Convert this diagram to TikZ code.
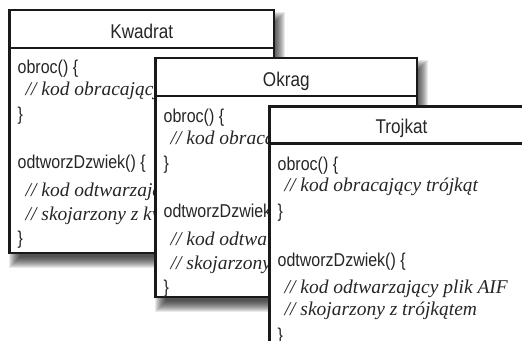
\documentclass[tikz,border=0pt]{standalone}
\usepackage{fontspec}
\newfontfamily\codefont[FakeStretch=0.86]{Liberation Sans}
\newfontfamily\cmtfont{Liberation Serif}
\tikzset{
  boxline/.style={draw=black!90, line width=2.4pt, fill=white},
  sepline/.style={draw=black!90, line width=2.2pt},
  code/.style={anchor=base west, inner sep=0pt, font=\codefont\fontsize{18.6}{20}\selectfont, text=black!85},
  cmt/.style={anchor=base west, inner sep=0pt, font=\cmtfont\itshape\fontsize{19.5}{21}\selectfont, text=black!85},
  ttl/.style={anchor=base, inner sep=0pt, font=\codefont\fontsize{19.9}{21}\selectfont, text=black!85},
}
\newcommand\softshadow[2]{%
  \foreach \k in {0,...,11}{%
    \fill[black,opacity=0.085] ({-1+\k},{2+\k}) rectangle ({#1+11-\k},{#2+15-\k});
  }}
\begin{document}
\begin{tikzpicture}[x=1pt,y=-1pt]
\useasboundingbox (0,0) rectangle (522,340);
\fill[white] (0,0) rectangle (522,340);
\clip (0,0) rectangle (522,340);

% Kwadrat
\begin{scope}[shift={(9.5,10)}]
  \softshadow{264.5}{243}
  \path[boxline] (0,0) rectangle (264.5,243);
  \draw[sepline] (0,38) -- (264.5,38);
  \node[ttl] (kt) at (132.25,28) {Kwadrat};
  \node[code] (k1) at (8,63) {obroc() \{};
  \node[cmt]  (k2) at (16,85) {// kod obracający kwadrat};
  \node[code] (k3) at (8,110) {\}};
  \node[code] (k4) at (8,158) {odtworzDzwiek() \{};
  \node[cmt]  (k5) at (16,186) {// kod odtwarzający plik AIF};
  \node[cmt]  (k6) at (16,210) {// skojarzony z kwadratem};
  \node[code] (k7) at (8,234) {\}};
\end{scope}

% Okrag
\begin{scope}[shift={(155.5,58)}]
  \softshadow{261.5}{239}
  \path[boxline] (0,0) rectangle (261.5,239);
  \draw[sepline] (0,38) -- (261.5,38);
  \node[ttl] (ot) at (130.75,28) {Okrag};
  \node[code] (o1) at (8,64) {obroc() \{};
  \node[cmt]  (o2) at (15,86) {// kod obracający koło};
  \node[code] (o3) at (8,111) {\}};
  \node[code] (o4) at (8,159) {odtworzDzwiek() \{};
  \node[cmt]  (o5) at (15,187) {// kod odtwarzający plik AIF};
  \node[cmt]  (o6) at (15,211) {// skojarzony z kołem};
  \node[code] (o7) at (8,235) {\}};
\end{scope}

% Trojkat
\begin{scope}[shift={(269.5,106.5)}]
  \softshadow{264}{250}
  \path[boxline] (0,0) rectangle (264,250);
  \draw[sepline] (0,37) -- (264,37);
  \node[ttl] (tt) at (132,27) {Trojkat};
  \node[code] (t1) at (8,64) {obroc() \{};
  \node[cmt]  (t2) at (15,85) {// kod obracający trójkąt};
  \node[code] (t3) at (8,111) {\}};
  \node[code] (t4) at (8,160) {odtworzDzwiek() \{};
  \node[cmt]  (t5) at (15,187) {// kod odtwarzający plik AIF};
  \node[cmt]  (t6) at (15,209) {// skojarzony z trójkątem};
  \node[code] (t7) at (8,235) {\}};
\end{scope}
\end{tikzpicture}
\end{document}
